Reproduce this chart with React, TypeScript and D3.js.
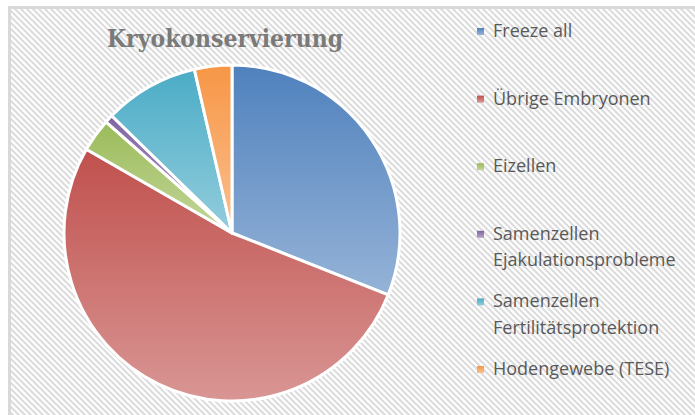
import React from "react";
import * as d3 from "d3";

const categories = [
  "Freeze all",
  "Übrige Embryonen",
  "Eizellen",
  "Samenzellen Ejakulationsprobleme",
  "Samenzellen Fertilitätsprotektion",
  "Hodengewebe (TESE)",
];
const legendLines = [
  ["Freeze all"],
  ["Übrige Embryonen"],
  ["Eizellen"],
  ["Samenzellen", "Ejakulationsprobleme"],
  ["Samenzellen", "Fertilitätsprotektion"],
  ["Hodengewebe (TESE)"],
];
const values = [31.0, 52.3, 3.2, 0.8, 9.1, 3.6];
const topColors = ["#4f81bd", "#c0504d", "#9bbb59", "#8064a2", "#4bacc6", "#f79646"];
const bottomColors = ["#95b3d7", "#d99694", "#c3d69b", "#b3a2c7", "#93cddd", "#fac090"];
const title = "Kryokonservierung";

const W = 695;
const H = 415;
const cx = 232;
const cy = 233;
const R = 168;

export default function App() {
  const pie = d3.pie<number>().sort(null).value((d) => d)(values);
  const arc = d3.arc<d3.PieArcDatum<number>>().innerRadius(0).outerRadius(R);
  const legendY = d3.scaleLinear().domain([0, 1]).range([37, 104.6]);

  return (
    <svg width={W} height={H} style={{ position: "absolute", left: 0, top: 0 }}>
      <defs>
        <pattern id="hatch" width="6" height="6" patternUnits="userSpaceOnUse">
          <rect width="6" height="6" fill="#ffffff" />
          <path d="M-1,-1 L7,7 M-1,5 L1,7 M5,-1 L7,1" stroke="#dcdcdc" strokeWidth="2" />
        </pattern>
        {categories.map((c, i) => (
          <linearGradient key={c} id={`g${i}`} x1="0" y1="0" x2="0" y2="1">
            <stop offset="0" stopColor={topColors[i]} />
            <stop offset="1" stopColor={bottomColors[i]} />
          </linearGradient>
        ))}
      </defs>
      <rect x={0} y={0} width={W} height={H} fill="#ffffff" />
      <rect x={9.5} y={7.5} width={W + 10} height={H + 10} fill="url(#hatch)" stroke="#d9d9d9" strokeWidth={3} />
      <text
        x={225}
        y={47}
        textAnchor="middle"
        fontFamily="'DejaVu Serif', serif"
        fontWeight="bold"
        fontSize={25}
        fill="#7a7a7a"
        textLength={236}
        lengthAdjust="spacingAndGlyphs"
      >
        {title}
      </text>
      <g transform={`translate(${cx},${cy})`}>
        {pie.map((p, i) => (
          <path key={categories[i]} d={arc(p) || ""} fill={`url(#g${i})`} stroke="#ffffff" strokeWidth={3} strokeLinejoin="round" />
        ))}
      </g>
      <g fontFamily="'Open Sans', sans-serif" fontSize={18} fill="#595959">
        {legendLines.map((lines, i) => {
          const y = legendY(i);
          return (
            <g key={categories[i]}>
              <rect x={477} y={y - 9} width={7} height={7} fill={`url(#g${i})`} />
              {lines.map((l, j) => (
                <text key={l} x={493} y={y + j * 26.5}>
                  {l}
                </text>
              ))}
            </g>
          );
        })}
      </g>
    </svg>
  );
}
